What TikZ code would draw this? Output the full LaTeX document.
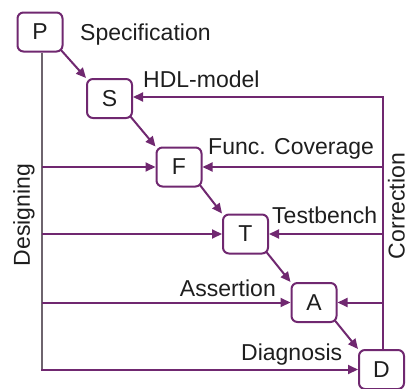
\documentclass[tikz,border=0pt]{standalone}
\usepackage{fontspec}
\setmainfont{Liberation Sans}
\usetikzlibrary{arrows.meta}
\definecolor{purp}{RGB}{112,40,112}
\definecolor{grayline}{RGB}{110,100,110}
\definecolor{txt}{RGB}{30,30,30}
\begin{document}
\begin{tikzpicture}[x=1pt,y=-1pt,
  stage/.style={draw=purp,line width=2pt,rounded corners=6pt,minimum width=45pt,minimum height=39pt,inner sep=0pt,text=txt,font=\fontsize{23}{26}\selectfont},
  lbl/.style={text=txt,font=\fontsize{23}{26}\selectfont,inner sep=0pt},
  conn/.style={draw=purp,line width=2pt,-{Triangle[length=10pt,width=9pt]}},
  gline/.style={draw=grayline,line width=2pt}]
\useasboundingbox (0,0) rectangle (409,388);
\node[stage] (P) at (40,32) {P};
\node[stage] (S) at (109.5,98.5) {S};
\node[stage] (F) at (179,167) {F};
\node[stage] (T) at (245.5,234) {T};
\node[stage] (A) at (314,302.5) {A};
\node[stage] (D) at (381.5,369.5) {D};
% diagonal
\draw[conn] (P.south east) ++(-3,-3) -- (S.north west);
\draw[conn] (S.south east) ++(-3,-3) -- (F.north west);
\draw[conn] (F.south east) ++(-3,-3) -- (T.north west);
\draw[conn] (T.south east) ++(-3,-3) -- (A.north west);
\draw[conn] (A.south east) ++(-3,-3) -- (D.north west);
% left designing line
\coordinate (L0) at ([xshift=2pt]P.south);
\draw[gline] (L0) -- (L0 |- D.west);
\draw[conn] (L0 |- F.west) -- (F.west);
\draw[conn] (L0 |- T.west) -- (T.west);
\draw[conn] (L0 |- A.west) -- (A.west);
\draw[conn] ([xshift=-1pt]L0 |- D.west) -- (D.west);
% right correction line
\coordinate (R0) at ([xshift=1.5pt]D.north);
\coordinate (RS) at ([yshift=1.5pt]R0 |- S.east);
\draw[purp,line width=2pt] (R0) -- ([yshift=-1pt]RS);
\draw[conn] ([xshift=1pt]RS) -- ([yshift=1.5pt]S.east);
\draw[conn] (R0 |- F.east) -- (F.east);
\draw[conn] (R0 |- T.east) -- (T.east);
\draw[conn] (R0 |- A.east) -- (A.east);
% labels
\node[lbl,anchor=base west] (l1) at (80,40) {Specification};
\node[lbl,anchor=base west] (l2) at (143,87) {HDL-model};
\node[lbl,anchor=base west] (l3) at (208,154) {Func. Coverage};
\node[lbl,anchor=base west] (l4) at (272,223) {Testbench};
\node[lbl,anchor=base east] (l5) at (276,296) {Assertion};
\node[lbl,anchor=base west] (l6) at (241,360) {Diagnosis};
\node[lbl,rotate=90] (l7) at (24,215) {Designing};
\node[lbl,rotate=90] (l8) at (396.5,206) {Correction};
\end{tikzpicture}
\end{document}
